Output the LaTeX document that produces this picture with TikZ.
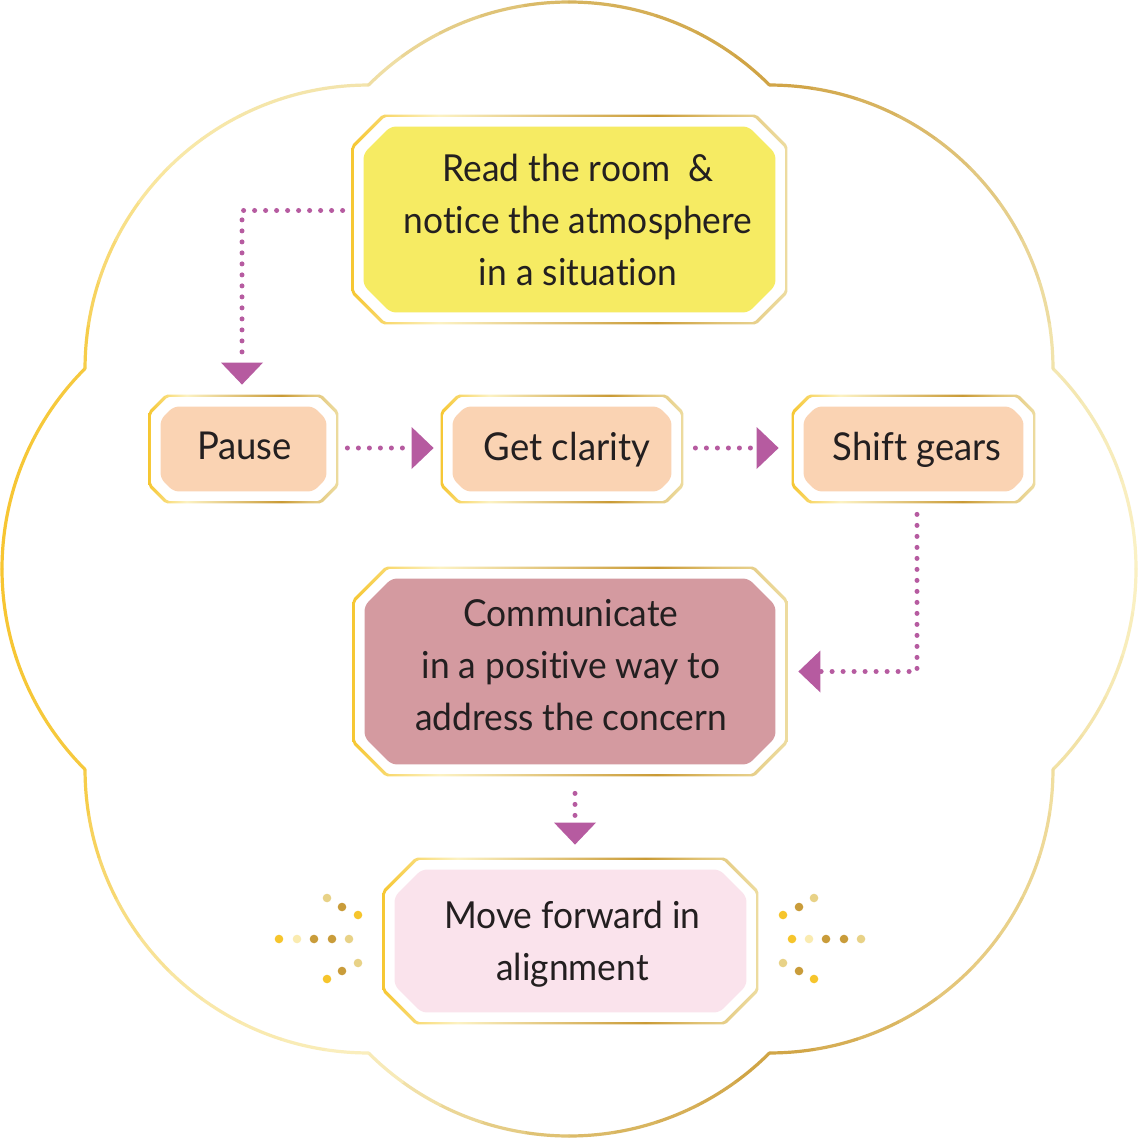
\documentclass[tikz,border=0pt]{standalone}
\usepackage{fontspec}
\setmainfont{Lato}[FakeStretch=0.95, Ligatures=NoCommon]
\usetikzlibrary{calc,backgrounds,arrows.meta}

\definecolor{txt}{HTML}{231F20}
\definecolor{arr}{HTML}{B65BA0}
\definecolor{fy}{HTML}{F6EB63}
\definecolor{fp}{HTML}{FAD3B3}
\definecolor{fr}{HTML}{D49AA0}
\definecolor{fk}{HTML}{FAE3EC}
% node edge gold
\definecolor{gY}{HTML}{F6C733}
\definecolor{gP}{HTML}{FCF2C3}
\definecolor{gT}{HTML}{E3C77F}
\definecolor{gD}{HTML}{C99A35}
\definecolor{gTb}{HTML}{E0C274}
\definecolor{gE}{HTML}{EDDCA0}
% sparkle dots
\definecolor{sY}{HTML}{F6C52C}
\definecolor{sP}{HTML}{FAEBB0}
\definecolor{sD}{HTML}{C99C3A}
\definecolor{sT}{HTML}{E8D287}
% cloud colours
\definecolor{cA}{HTML}{F3E6B0}
\definecolor{cB}{HTML}{FBF2C6}
\definecolor{cC}{HTML}{F1E0A2}
\definecolor{cD}{HTML}{E6CA80}
\definecolor{cE}{HTML}{CFA242}
\definecolor{cF}{HTML}{DCBD6C}
\definecolor{cG}{HTML}{FAEFC0}
\definecolor{cH}{HTML}{F8E5A0}
\definecolor{cI}{HTML}{F6CA40}
\definecolor{cJ}{HTML}{F7C52F}
\definecolor{cK}{HTML}{F9E9A8}
\definecolor{cL}{HTML}{F2E3AC}
\definecolor{cM}{HTML}{D7B560}
\definecolor{cN}{HTML}{E0C57C}

\pgfdeclarehorizontalshading{goldedge}{100bp}{color(0bp)=(gY); color(25bp)=(gY); color(35bp)=(gP); color(47bp)=(gT); color(60bp)=(gD); color(67bp)=(gTb); color(75bp)=(gE); color(100bp)=(gE)}

% chamfered outline: node, inset, chamfer (picture units)
\newcommand\octo[3]{($(#1.north west)+(#2+#3,#2)$) -- ($(#1.north east)+(-#2-#3,#2)$) -- ($(#1.north east)+(-#2,#2+#3)$) -- ($(#1.south east)+(-#2,-#2-#3)$) -- ($(#1.south east)+(-#2-#3,-#2)$) -- ($(#1.south west)+(#2+#3,-#2)$) -- ($(#1.south west)+(#2,-#2-#3)$) -- ($(#1.north west)+(#2,#2+#3)$) -- cycle}

\tikzset{
  shapebox/.style={inner sep=0pt, draw=none},
  label text/.style={inner sep=0pt, align=center, text=txt},
  mfont/.style={font=\fontsize{18.6}{26}\selectfont},
  sfont/.style={font=\fontsize{19.2}{26}\selectfont},
  dotline/.style={draw=arr, line width=2.5pt, line cap=round, dash pattern=on 0pt off 5.5pt,
    -{Triangle[width=21pt,length=11pt,line width=0pt]}},
  spark/.style={radius=2.15pt}
}

\begin{document}
\begin{tikzpicture}[x=0.5pt,y=-0.5pt]
\useasboundingbox (0,0) rectangle (1138,1138);

% box shapes (named)
\node[shapebox, minimum width=217.5pt, minimum height=104.5pt] (read) at (569.5,219.5) {};
\node[shapebox, minimum width=94.5pt, minimum height=54pt] (pause) at (243.5,449) {};
\node[shapebox, minimum width=121pt, minimum height=54pt] (clarity) at (562,449) {};
\node[shapebox, minimum width=121.5pt, minimum height=54pt] (shift) at (913.5,449) {};
\node[shapebox, minimum width=217pt, minimum height=104.5pt] (comm) at (570,671.5) {};
\node[shapebox, minimum width=187.5pt, minimum height=83pt] (move) at (570.5,941) {};

% texts
\node[label text, mfont] (readt) at (578,220.4) {Read the room\ \ \&\\notice the atmosphere\\in a situation};
\node[label text, sfont] (pauset) at (244.5,445.5) {Pause};
\node[label text, sfont] (clarityt) at (567,449.5) {Get clarity};
\node[label text, sfont] (shiftt) at (917,449.5) {Shift gears};
\node[label text, mfont] (commt) at (571,664.9) {Communicate\\in a positive way to\\address the concern};
\node[label text, mfont] (movet) at (572.5,944.1) {Move forward in\\alignment};

% connectors
\draw[dotline] ($(read.west)+(-9,-9)$) -| ($(pause.north)+(-1.5,-10)$);
\draw[dotline] ($(pause.east)+(9,-1)$) -- ($(clarity.west)+(-7,-1)$);
\draw[dotline] ($(clarity.east)+(12,-1)$) -- ($(shift.west)+(-13,-1)$);
\draw[dotline] ($(shift.south)+(3.5,11)$) |- ($(comm.east)+(11,0)$);
\draw[dotline] ($(comm.south)+(5,17)$) -- ($(move.north)+(4.5,-13)$);

% sparkle dots
\foreach \x/\y/\c in {279/939/sY,297/939/sP,314/939/sD,332/939/sD,349/939/sT,
  327/898/sT,342/907/sD,358/915/sY,358/963/sT,342/971/sD,327/979/sY,
  792/939/sY,809/939/sP,826/939/sD,844/939/sD,861/939/sT,
  783/915/sY,799/907/sD,814/898/sT,783/963/sT,799/971/sD,814/979/sY}
  \fill[\c] (\x,\y) circle[spark];

\begin{pgfonlayer}{background}
\fill[white] (0,0) rectangle (1138,1138);
% cloud outline: 8 lobes, each a 90 degree arc
\foreach \p/\ca/\cb/\cc in {0/cA/cB/cC, 45/cC/cD/cE, 90/cE/cF/cG, 135/cG/cH/cI,
   180/cI/cJ/cI, 225/cI/cK/cL, 270/cL/cM/cE, 315/cE/cN/cA}{
  \foreach \i in {0,...,9}{
    \pgfmathsetmacro\a{\p-45+9*\i}
    \pgfmathsetmacro\b{\a+9}
    \ifnum\i<5
      \pgfmathtruncatemacro\pc{(\i+0.5)*20}
      \edef\col{\cb!\pc!\ca}
    \else
      \pgfmathtruncatemacro\pc{(\i-4.5)*20}
      \edef\col{\cc!\pc!\cb}
    \fi
    \draw[line width=1.6pt, line cap=round, color=\col]
      ($(569,569)+(\p:283.5)+(\a:283.5)$) arc[start angle=\a, end angle=\b, radius=283.5];
  }
}
% box rings and fills
\foreach \n/\co/\ci/\f in {read/31/27/fy, comm/33/27/fr, move/33/27/fk,
   pause/17/13/fp, clarity/17/13/fp, shift/17/13/fp}{
  \shade[shading=goldedge, even odd rule, rounded corners=1pt] \octo{\n}{0}{\co} \octo{\n}{2.2}{\co};
  \fill[\f, rounded corners=2.5pt] \octo{\n}{12}{\ci};
}
\end{pgfonlayer}
\end{tikzpicture}
\end{document}
